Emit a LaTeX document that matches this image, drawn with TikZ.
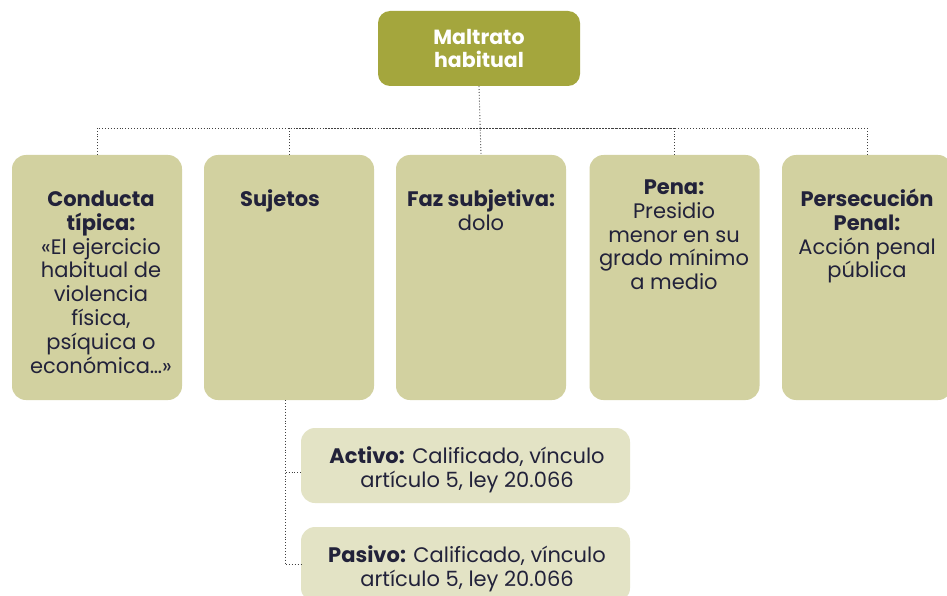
\documentclass[tikz,border=0pt]{standalone}
\usepackage{fontspec}
\setmainfont{Poppins}
\definecolor{topc}{HTML}{A4A63D}
\definecolor{mainc}{HTML}{D2D1A0}
\definecolor{subc}{HTML}{E3E3C5}
\definecolor{ink}{HTML}{22223A}
\tikzset{
  topbox/.style={fill=topc, rounded corners=12pt, minimum width=202pt, minimum height=75pt, inner sep=0pt, text=white, align=center, font=\bfseries\fontsize{20.5}{23}\selectfont},
  mainbox/.style={fill=mainc, rounded corners=14pt, minimum width=170pt, minimum height=245pt, inner sep=0pt},
  subbox/.style={fill=subc, rounded corners=14pt, minimum width=329pt, minimum height=75pt, inner sep=0pt},
  txt/.style={anchor=north, inner sep=0pt, align=center, text=ink, font=\fontsize{21}{23.9}\selectfont},
  conn/.style={dotted, line width=0.9pt, draw=black!75}
}
\newcommand{\fl}{\rule{0pt}{21pt}}
\begin{document}
\begin{tikzpicture}[x=1pt,y=-1pt]
\clip (0,0) rectangle (947,596);
\fill[white] (0,0) rectangle (947,596);
\node[topbox] (top) at (479,48.5) {Maltrato\\habitual};
\node[mainbox] (b1) at (97,277.5) {};
\node[mainbox] (b2) at (289,277.5) {};
\node[mainbox] (b3) at (481,277.5) {};
\node[mainbox] (b4) at (674.5,277.5) {};
\node[mainbox] (b5) at (867,277.5) {};
\node[subbox] (act) at (465.5,465.5) {};
\node[subbox] (pas) at (465.5,564.5) {};
\coordinate (bus) at (479,128);
% connectors
\draw[conn] (top.south) -- (b3.north);
\draw[conn] (b1.north) |- (bus);
\draw[conn] (b2.north) |- (bus);
\draw[conn] (b4.north) |- (bus);
\draw[conn] (b5.north) |- (bus);
\draw[conn] ([xshift=-4pt]b2.south) |- ([yshift=-6.5pt]act.west);
\draw[conn] ([xshift=-4pt]b2.south) |- (pas.west);
% texts
\node[txt] (t1) at (101,185) {\fl\textbf{Conducta}\\\textbf{típica:}\\«El ejercicio\\habitual de\\violencia\\física,\\psíquica o\\económica…»};
\node[txt] (t2) at (280,185) {\fl\textbf{Sujetos}};
\node[txt] (t3) at (481,185) {\fl\textbf{Faz subjetiva:}\\dolo};
\node[txt] (t4) at (674,173) {\fl\textbf{Pena:}\\Presidio\\menor en su\\grado mínimo\\a medio};
\node[txt] (t5) at (867,185) {\fl\textbf{Persecución}\\\textbf{Penal:}\\Acción penal\\pública};
\node[txt] (ta) at (467,442) {\fl\textbf{Activo:} Calificado, vínculo\\artículo 5, ley 20.066};
\node[txt] (tp) at (467,541) {\fl\textbf{Pasivo:} Calificado, vínculo\\artículo 5, ley 20.066};
\end{tikzpicture}
\end{document}
